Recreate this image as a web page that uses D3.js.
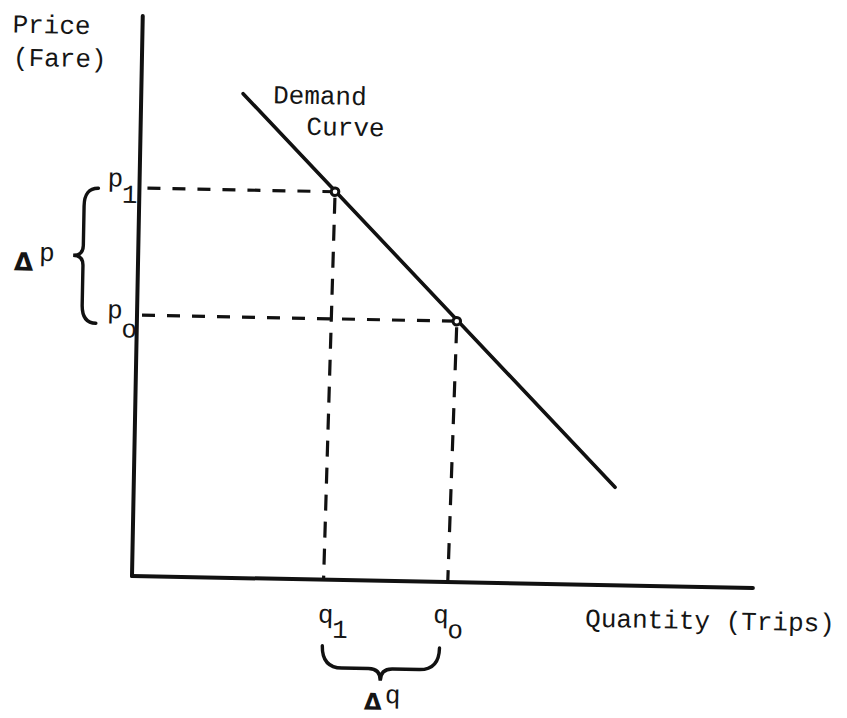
<!DOCTYPE html>
<html>
<head>
<meta charset="utf-8">
<script src="https://cdn.jsdelivr.net/npm/d3@7"></script>
<style>
  html, body { margin: 0; padding: 0; background: #fff; }
  svg { display: block; }
  text { font-family: "Liberation Mono", "DejaVu Sans Mono", monospace; fill: #151515; }
</style>
</head>
<body>
<svg id="chart" width="847" height="718"></svg>
<script>
// ---- data (abstract 0-100 units) ----
const quantityKeys = ["q1", "q0"];          // quantity tick labels
const quantityValues = [31.5, 51.5];        // q1, q0
const priceKeys = ["p1", "p0"];             // price tick labels
const priceValues = [69.3, 46.6];           // p1, p0
const demandQ = [16.4, 77.5];               // demand curve endpoints (quantity)
const demandP = [86.5, 17.5];               // demand curve endpoints (price)
const axisTitles = ["Price", "(Fare)", "Quantity (Trips)"];
const curveTitle = ["Demand", "Curve"];

// ---- layout ----
const W = 847, H = 718;
const x = d3.scaleLinear().domain([0, 100]).range([132, 753]);
const y = d3.scaleLinear().domain([0, 100]).range([576, 16]);
const ink = "#111";

const svg = d3.select("#chart");
const g = svg.append("g").attr("transform", `rotate(1.1, ${x(0)}, ${y(0)})`);

// axes
g.append("line").attr("x1", x(0)).attr("y1", y(0)).attr("x2", x(0)).attr("y2", y(100))
  .attr("stroke", ink).attr("stroke-width", 4).attr("stroke-linecap", "round");
g.append("line").attr("x1", x(0)).attr("y1", y(0)).attr("x2", x(100)).attr("y2", y(0))
  .attr("stroke", ink).attr("stroke-width", 4).attr("stroke-linecap", "round");

// demand curve
const demand = demandQ.map((q, i) => ({ q, p: demandP[i] }));
g.append("path").datum(demand)
  .attr("d", d3.line().x(d => x(d.q)).y(d => y(d.p)))
  .attr("fill", "none").attr("stroke", ink).attr("stroke-width", 3.6).attr("stroke-linecap", "round");

const pts = quantityValues.map((q, i) => ({ q, p: priceValues[i], qk: quantityKeys[i], pk: priceKeys[i] }));
const hStart = [8, 5];
const lean = 4; // scan skew of the vertical guides

// horizontal dashed guides
g.selectAll("line.h").data(pts).join("line").attr("class", "h")
  .attr("x1", (d, i) => x(0) + hStart[i]).attr("y1", d => y(d.p))
  .attr("x2", d => x(d.q)).attr("y2", d => y(d.p))
  .attr("stroke", ink).attr("stroke-width", 3.2).attr("stroke-dasharray", "13,12");

// vertical dashed guides
g.selectAll("line.v").data(pts).join("line").attr("class", "v")
  .attr("x1", d => x(d.q)).attr("y1", d => y(d.p) + 6)
  .attr("x2", d => x(d.q) - lean).attr("y2", d => y(0))
  .attr("stroke", ink).attr("stroke-width", 3.2).attr("stroke-dasharray", "16,11");

// points
g.selectAll("circle.pt").data(pts).join("circle").attr("class", "pt")
  .attr("cx", d => x(d.q)).attr("cy", d => y(d.p)).attr("r", 3.8)
  .attr("fill", "#fff").attr("stroke", ink).attr("stroke-width", 3);

// price labels p1 / p0
const pNudge = [[-32, -1], [-30, 3.5]];
pts.forEach((d, i) => {
  const t = g.append("text").attr("x", x(0) + pNudge[i][0]).attr("y", y(d.p) + pNudge[i][1])
    .attr("font-size", 26);
  t.append("tspan").text(d.pk[0]);
  t.append("tspan").attr("dy", i === 0 ? 16 : 19).attr("dx", -1).text(d.pk.slice(1) === "0" ? "o" : d.pk.slice(1));
});

// quantity labels q1 / q0
const qNudge = [-9, -18];
pts.forEach((d, i) => {
  const t = g.append("text").attr("x", x(d.q) + qNudge[i]).attr("y", y(0) + 43 - (i ? 2 : 0))
    .attr("font-size", 26);
  t.append("tspan").text(d.qk[0]);
  t.append("tspan").attr("dy", 15).attr("dx", -1).text(d.qk.slice(1) === "0" ? "o" : d.qk.slice(1));
});

// curly brace path: horizontal, length L, bar depth a, tip depth h
function brace(L, a, h, c, c2) {
  return `M0,0 Q0,${a} ${c},${a} L${L / 2 - c2},${a} Q${L / 2},${a} ${L / 2},${h} ` +
         `Q${L / 2},${a} ${L / 2 + c2},${a} L${L - c},${a} Q${L},${a} ${L},0`;
}

// Δp brace (vertical, pointing left)
const pTop = y(priceValues[0]) + 1, pBot = y(priceValues[1]) + 9;
g.append("path")
  .attr("d", brace(pBot - pTop, 14, 24, 18, 10))
  .attr("transform", `translate(${x(0) - 41},${pTop}) rotate(90)`)
  .attr("fill", "none").attr("stroke", ink).attr("stroke-width", 3.4).attr("stroke-linecap", "round");
const pTipY = (pTop + pBot) / 2;
g.append("text").attr("x", x(0) - 124).attr("y", pTipY + 16)
  .style("font-family", "DejaVu Sans").attr("font-weight", "bold").attr("font-size", 25).text("Δ");
g.append("text").attr("x", x(0) - 99).attr("y", pTipY + 6).attr("font-size", 26).text("p");

// Δq brace (horizontal, pointing down)
const qL = x(quantityValues[0]) - 4, qR = x(quantityValues[1]) - 11;
g.append("path")
  .attr("d", brace(qR - qL, 22, 34, 20, 12))
  .attr("transform", `translate(${qL},${y(0) + 66})`)
  .attr("fill", "none").attr("stroke", ink).attr("stroke-width", 3.4).attr("stroke-linecap", "round");
const qMid = (qL + qR) / 2;
g.append("text").attr("x", qMid - 16).attr("y", y(0) + 129)
  .style("font-family", "DejaVu Sans").attr("font-weight", "bold").attr("font-size", 23).text("Δ");
g.append("text").attr("x", qMid + 5).attr("y", y(0) + 122).attr("font-size", 26).text("q");

// axis titles
g.append("text").attr("x", x(0) - 130).attr("y", y(100) + 19).attr("font-size", 26).text(axisTitles[0]);
g.append("text").attr("x", x(0) - 129).attr("y", y(100) + 52).attr("font-size", 26).text(axisTitles[1]);
g.append("text").attr("x", x(100) - 167).attr("y", y(0) + 42).attr("font-size", 26).text(axisTitles[2]);

// curve label
g.append("text").attr("x", x(demandQ[0]) + 30).attr("y", y(demandP[0]) + 9).attr("font-size", 26).text(curveTitle[0]);
g.append("text").attr("x", x(demandQ[0]) + 64).attr("y", y(demandP[0]) + 40).attr("font-size", 26).text(curveTitle[1]);
</script>
</body>
</html>
